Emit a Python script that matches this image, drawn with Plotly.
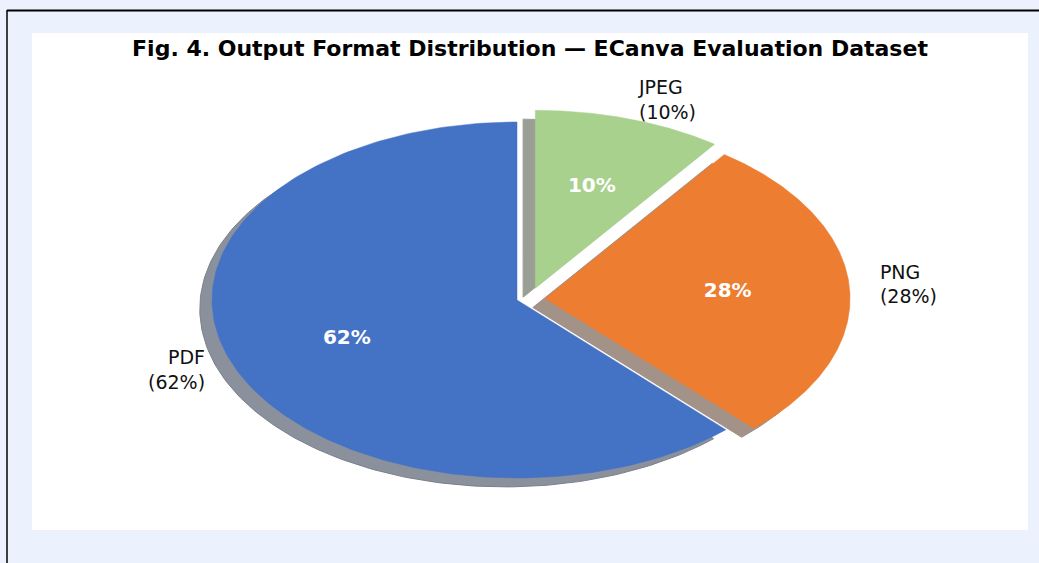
import numpy as np
import plotly.graph_objects as go

# ---- data ----
categories = ["PDF", "PNG", "JPEG"]
shares = [62, 28, 10]
pct_labels = ["62%", "28%", "10%"]
outer_labels = ["PDF<br>(62%)", "PNG<br>(28%)", "JPEG<br>(10%)"]

# ---- style ----
colors = ["#4472C4", "#ED7D31", "#A9D18E"]
shadow_colors = ["#8A919D", "#A39287", "#999F95"]
explode_vec = [(0.0, 0.0), (0.092, 0.008), (0.06, 0.066)]  # slice offsets (radius units)
shadow_off = (-0.04, -0.05)
start_angle = 90.0
label_dist = 1.1
pct_dist = 0.6
title_text = "Fig. 4. Output Format Distribution \u2014 ECanva Evaluation Dataset"

total = float(sum(shares))
fig = go.Figure()

wedges = []
cum = 0.0
for i, v in enumerate(shares):
    t1 = start_angle + 360.0 * cum / total
    t2 = t1 + 360.0 * v / total
    cum += v
    cx, cy = explode_vec[i]
    t = np.radians(np.linspace(t1, t2, 200))
    xs = np.concatenate([[cx], cx + np.cos(t), [cx]])
    ys = np.concatenate([[cy], cy + np.sin(t), [cy]])
    wedges.append((xs, ys, t1, t2, cx, cy))

# shadows (under every wedge)
for i, (xs, ys, t1, t2, cx, cy) in enumerate(wedges):
    fig.add_trace(go.Scatter(x=xs + shadow_off[0], y=ys + shadow_off[1], mode="lines",
                             fill="toself", fillcolor=shadow_colors[i],
                             line=dict(color="#7A808C" if i == 0 else shadow_colors[i], width=1),
                             hoverinfo="skip", showlegend=False))
# wedges
for i, (xs, ys, t1, t2, cx, cy) in enumerate(wedges):
    fig.add_trace(go.Scatter(x=xs, y=ys, mode="lines", fill="toself",
                             fillcolor=colors[i], line=dict(color=colors[i], width=0.5),
                             hoverinfo="skip", showlegend=False, name=categories[i]))

# labels
for i, (xs, ys, t1, t2, cx, cy) in enumerate(wedges):
    mid = np.radians((t1 + t2) / 2)
    px = cx + pct_dist * np.cos(mid)
    py = cy + pct_dist * np.sin(mid)
    fig.add_trace(go.Scatter(x=[px], y=[py], mode="text", text=[pct_labels[i]],
                             textposition="middle center",
                             textfont=dict(family="DejaVu Sans", size=20, color="white", weight="bold"),
                             hoverinfo="skip", showlegend=False))
    lx = cx + label_dist * np.cos(mid)
    ly = cy + label_dist * np.sin(mid)
    fig.add_trace(go.Scatter(x=[lx], y=[ly], mode="text", text=[outer_labels[i]],
                             textposition="middle left" if lx < 0 else "middle right",
                             textfont=dict(family="DejaVu Sans", size=19, color="#111111"),
                             hoverinfo="skip", showlegend=False))

W, H = 1039, 563
L, R, T, B = 32, 11, 33, 33
pw, ph = W - L - R, H - T - B
cx_px, cy_px = 517, 300
rx, ry = 305.0, 178.0
xr = [-(cx_px - L) / rx, (W - R - cx_px) / rx]
yr = [-(H - B - cy_px) / ry, (cy_px - T) / ry]

def px2paper_x(p):
    return (p - L) / pw

def py2paper_y(p):
    return (H - B - p) / ph

fig.update_layout(
    width=W, height=H,
    margin=dict(l=L, r=R, t=T, b=B),
    paper_bgcolor="#ECF2FD",
    plot_bgcolor="white",
    xaxis=dict(range=xr, visible=False, fixedrange=True),
    yaxis=dict(range=yr, visible=False, fixedrange=True),
    title=dict(text=title_text, x=530 / W, xanchor="center", xref="container",
               y=1 - 48 / H, yanchor="middle", yref="container",
               font=dict(family="DejaVu Sans", size=22, color="black", weight="bold")),
    shapes=[
        dict(type="line", xref="paper", yref="paper",
             x0=px2paper_x(7), x1=px2paper_x(W + 2), y0=py2paper_y(10.5), y1=py2paper_y(10.5),
             line=dict(color="black", width=2)),
        dict(type="line", xref="paper", yref="paper",
             x0=px2paper_x(7), x1=px2paper_x(7), y0=py2paper_y(10), y1=py2paper_y(H + 2),
             line=dict(color="black", width=1.5)),
    ],
)

fig.write_html("out.html")
